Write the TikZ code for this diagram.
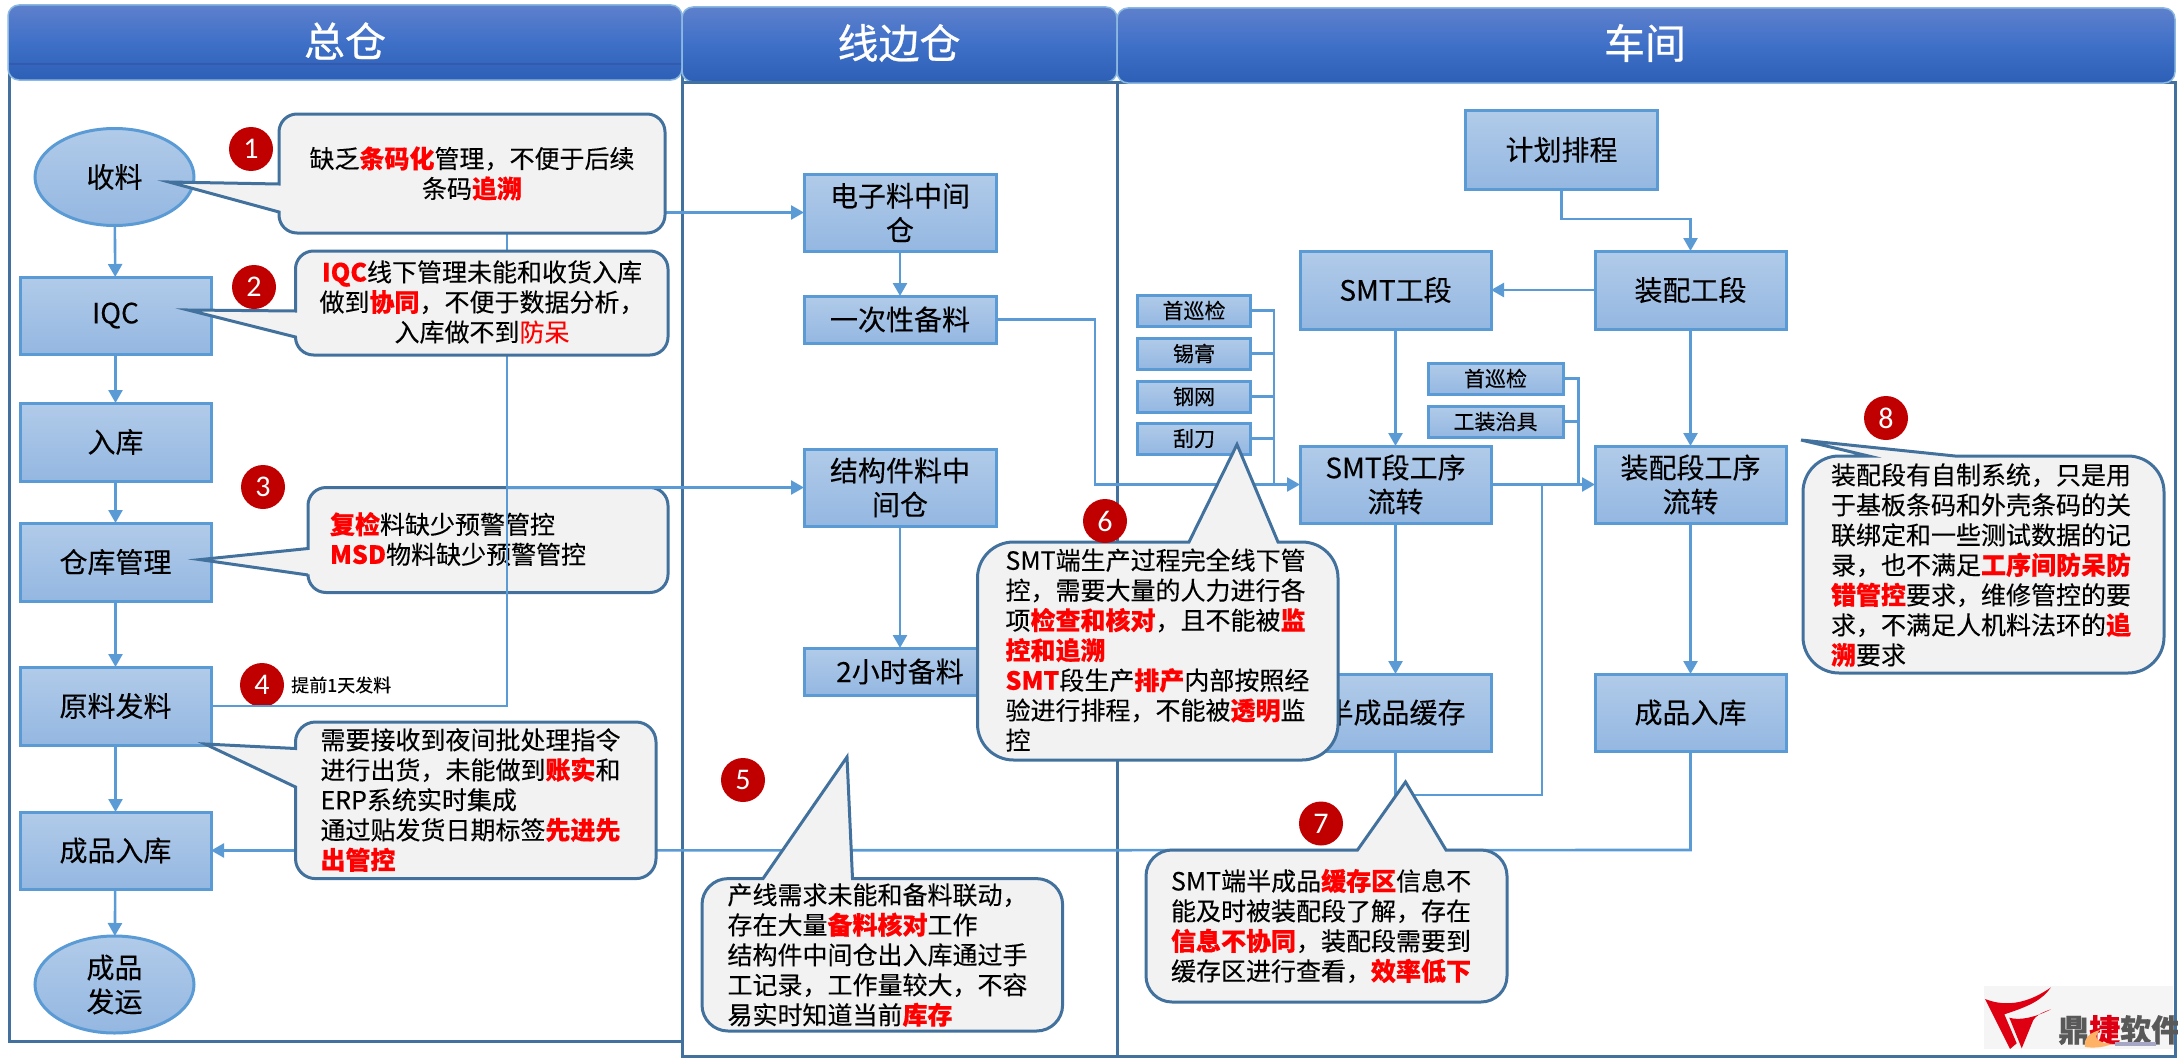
\documentclass[tikz,border=0pt]{standalone}
\usepackage{fontspec}
\setmainfont[FakeBold=0.2,BoldFeatures={FakeBold=0.4}]{Noto Sans CJK SC}
\newfontfamily\digitfont{Carlito}
\newfontfamily\headfont[FakeBold=0.6]{Noto Sans CJK SC}
\usetikzlibrary{arrows.meta,shapes.geometric,calc}
\definecolor{nodeline}{HTML}{5B9BD5}
\definecolor{nodetop}{HTML}{B1CBE9}
\definecolor{nodebot}{HTML}{94B7E1}
\definecolor{frameblue}{HTML}{41719C}
\definecolor{calloutfill}{HTML}{F2F2F2}
\definecolor{badgered}{HTML}{C00000}
\definecolor{headtop}{HTML}{5E80CC}
\definecolor{headmid}{HTML}{3F70C8}
\definecolor{headbot}{HTML}{2E5FB6}
\definecolor{logored}{HTML}{DE0012}
\newcommand{\hl}[1]{{\bfseries\color{red}#1}}
\newcommand{\hn}[1]{{\color{red}#1}}
\newcommand{\fs}[2]{\fontsize{#1}{#2}\selectfont}
\tikzset{
  procbox/.style={draw=nodeline,line width=3pt,top color=nodetop,bottom color=nodebot,
    shape=rectangle,inner sep=0pt,outer sep=0pt,align=center,text=black,font=\fs{28}{34}},
  smallbox/.style={procbox,font=\fs{21}{25}},
  oval/.style={procbox,shape=ellipse,minimum width=159pt,minimum height=97pt},
  flow/.style={draw=nodeline,line width=2.6pt},
  arrowflow/.style={flow,-{Triangle[length=13pt,width=14pt,fill=nodeline]}},
  lane/.style={draw=frameblue,line width=3pt},
  header/.style={draw=nodeline!70!white,line width=1.5pt,rounded corners=11pt,top color=headtop,bottom color=headbot,middle color=headmid},
  headtext/.style={text=white,font=\headfont\fs{41}{44},inner sep=0pt},
  callout/.style={draw=frameblue,line width=3pt,fill=calloutfill,line join=miter},
  badge/.style={shape=circle,fill=badgered,minimum size=44pt,inner sep=0pt,text=white,font=\digitfont\fs{30}{30}},
  ctext/.style={inner sep=0pt,outer sep=0pt,text=black,font=\fs{25}{30}},
}
\begin{document}
\begin{tikzpicture}[x=1pt,y=-1pt]
\useasboundingbox (0,0) rectangle (2178,1057);
% lanes and headers
\draw[lane] (9,64) rectangle (682,1041);
\draw[lane] (1117,82) rectangle (2175,1056);
\path[header] (8,5) rectangle (682,80);
\draw[draw=frameblue!80!blue,line width=1.5pt] (9,64) -- (681,64);
\path[header] (682,7) rectangle (1117,82);
\path[header] (1117,8) rectangle (2175,83);
\draw[lane] (682,82) rectangle (1117,1056);
\node[headtext] (h1) at (345,41) {总仓};
\node[headtext] (h2) at (899,43) {线边仓};
\node[headtext] (h3) at (1645,43) {车间};
% process nodes: warehouse
\node[oval] (recv) at (114.5,177) {收料};
\node[procbox,minimum width=191pt,minimum height=77pt] (iqc) at (115.5,315.5) {IQC};
\node[procbox,minimum width=191pt,minimum height=78pt] (stock) at (115.5,442) {入库};
\node[procbox,minimum width=191pt,minimum height=78pt] (mgmt) at (115.5,562) {仓库管理};
\node[procbox,minimum width=191pt,minimum height=78pt] (issue) at (115.5,706) {原料发料};
\node[procbox,minimum width=191pt,minimum height=77pt] (fgin) at (115.5,850.5) {成品入库};
\node[oval] (ship) at (114.5,984.5) {成品\\发运};
% line side
\node[procbox,minimum width=192pt,minimum height=77pt] (elec) at (900,212.5) {电子料中间\\仓};
\node[procbox,minimum width=192pt,minimum height=47pt] (once) at (900,319.5) {一次性备料};
\node[procbox,minimum width=192pt,minimum height=77pt] (struct) at (900,487.5) {结构件料中\\间仓};
\node[procbox,minimum width=192pt,minimum height=47pt] (twoh) at (900,671.5) {2小时备料};
% workshop
\node[procbox,minimum width=191.5pt,minimum height=78.5pt] (plan) at (1561.5,149.75) {计划排程};
\node[procbox,minimum width=191pt,minimum height=78pt] (asm) at (1690.5,290) {装配工段};
\node[procbox,minimum width=191pt,minimum height=78pt] (smt) at (1395.5,290) {SMT工段};
\node[procbox,minimum width=191pt,minimum height=77pt] (smtflow) at (1395.5,484.5) {SMT段工序\\流转};
\node[procbox,minimum width=191pt,minimum height=77pt] (asmflow) at (1690.5,484.5) {装配段工序\\流转};
\node[procbox,minimum width=191pt,minimum height=77pt] (semi) at (1395.5,712.5) {半成品缓存};
\node[procbox,minimum width=191pt,minimum height=77pt] (fgout) at (1690.5,712.5) {成品入库};
\node[smallbox,minimum width=113pt,minimum height=31pt] (s1) at (1194,310.5) {首巡检};
\node[smallbox,minimum width=113pt,minimum height=31pt] (s2) at (1194,353.5) {锡膏};
\node[smallbox,minimum width=113pt,minimum height=31pt] (s3) at (1194,396.5) {钢网};
\node[smallbox,minimum width=113pt,minimum height=31pt] (s4) at (1194,438.5) {刮刀};
\node[smallbox,minimum width=135pt,minimum height=31pt] (t1) at (1495.5,378.5) {首巡检};
\node[smallbox,minimum width=135pt,minimum height=31pt] (t2) at (1495.5,421.5) {工装治具};
% flows inside lanes
\draw[arrowflow] (recv) -- (iqc);
\draw[arrowflow] (iqc) -- (stock);
\draw[arrowflow] (stock) -- (mgmt);
\draw[arrowflow] (mgmt) -- (issue);
\draw[arrowflow] (issue) -- (fgin);
\draw[arrowflow] (fgin) -- (ship);
\draw[arrowflow] (elec) -- (once);
\draw[arrowflow] (struct) -- (twoh);
\draw[arrowflow] (smt) -- (smtflow);
\draw[arrowflow] (smtflow) -- (semi);
\draw[arrowflow] (asm) -- (asmflow);
\draw[arrowflow] (asmflow) -- (fgout);
\draw[arrowflow] (asm) -- (smt);
\draw[arrowflow] (smtflow.east) -- (asmflow.west);
\coordinate (planbend) at (1561.5,219);
\draw[arrowflow] (plan.south) -- (planbend) -| (asm.north);
\coordinate (oncex) at (1095,319.5);
\draw[arrowflow] (once.east) -- (oncex) |- (smtflow.west);
\coordinate (busa) at (1274,484.5);
\draw[flow] (s1.east) -| (busa);
\draw[flow] (s2.east) -- (s2.east -| busa);
\draw[flow] (s3.east) -- (s3.east -| busa);
\draw[flow] (s4.east) -- (s4.east -| busa);
\coordinate (busb) at (1578.5,484.5);
\draw[flow] (t1.east) -| (busb);
\draw[flow] (t2.east) -- (t2.east -| busb);
\coordinate (crossa) at (1542,484.5);
\coordinate (crossb) at (1542,795);
\coordinate (crossc) at (1395.5,795);
\draw[flow] (crossa) -- (crossb) -- (crossc);
\coordinate (botline) at (1395.5,850);
\draw[flow] (semi.south) -- (botline);
\coordinate (botr) at (1690.5,850);
\draw[arrowflow] (fgout.south) -- (botr) -- (fgin.east);
% callout 3 lies under the feed line
\draw[callout] (200,559.6) -- (308,548.5) [rounded corners=18pt] -- (308,487.5) -- (668,487.5) -- (668,592.5) -- (308,592.5) [sharp corners] -- (308,575) -- cycle;
\node[ctext,anchor=west,align=left] (c3t) at (330,539) {\hl{复检}料缺少预警管控\\\hl{MSD}物料缺少预警管控};
\node[badge] (b4) at (262,685) {4};
\node[inner sep=0pt,font=\fs{18}{20},anchor=west] (b4t) at (291,685) {提前1天发料};
% feed line
\coordinate (feedtop) at (507,212.5);
\coordinate (feedmid) at (507,487.5);
\draw[arrowflow] (issue.east) -| (feedtop) -- (elec.west);
\draw[arrowflow] (feedmid) -- (struct.west);
% callouts
\draw[callout] (169,182) -- (279,184) [rounded corners=18pt] -- (279,114) -- (665,114) -- (665,233) -- (279,233) [sharp corners] -- (279,212) -- cycle;
\node[ctext,align=center] (c1t) at (472,173.5) {缺乏\hl{条码化}管理，不便于后续\\条码\hl{追溯}};
\draw[callout] (188,310) -- (295.5,311) [rounded corners=18pt] -- (295.5,251) -- (668,251) -- (668,355) -- (295.5,355) [sharp corners] -- (295.5,337) -- cycle;
\node[ctext,align=center] (c2t) at (482,302) {\hl{IQC}线下管理未能和收货入库\\做到\hl{协同}，不便于数据分析，\\入库做不到\hn{防呆}};
\draw[callout] (205,744) -- (295.5,748.5) [rounded corners=20pt] -- (295.5,722) -- (656,722) -- (656,878.6) -- (295.5,878.6) [sharp corners] -- (295.5,787) -- cycle;
\node[ctext,anchor=west,align=left] (c4t) at (320.5,800) {需要接收到夜间批处理指令\\进行出货，未能做到\hl{账实}和\\ERP系统实时集成\\通过贴发货日期标签\hl{先进先}\\\hl{出管控}};
\draw[callout] (847,757) -- (852.5,878.6) [rounded corners=26pt] -- (1062.6,878.6) -- (1062.6,1031) -- (702,1031) -- (702,878.6) [sharp corners] -- (763,878.6) -- cycle;
\node[ctext,anchor=west,align=left] (c5t) at (727.5,955) {产线需求未能和备料联动，\\存在大量\hl{备料核对}工作\\结构件中间仓出入库通过手\\工记录，工作量较大，不容\\易实时知道当前\hl{库存}};
\draw[callout] (1237,444.5) -- (1278,542) [rounded corners=36pt] -- (1338,542) -- (1338,760) -- (977.5,760) -- (977.5,542) [sharp corners] -- (1189,542) -- cycle;
\node[ctext,anchor=west,align=left] (c6t) at (1005.5,650) {SMT端生产过程完全线下管\\控，需要大量的人力进行各\\项\hl{检查和核对}，且不能被\hl{监}\\\hl{控和追溯}\\\hl{SMT}段生产\hl{排产}内部按照经\\验进行排程，不能被\hl{透明}监\\控};
\draw[callout] (1405.5,782) -- (1446,850) [rounded corners=26pt] -- (1507,850) -- (1507,1002) -- (1146,1002) -- (1146,850) [sharp corners] -- (1357.5,850) -- cycle;
\node[ctext,anchor=west,align=left] (c7t) at (1171,926) {SMT端半成品\hl{缓存区}信息不\\能及时被装配段了解，存在\\\hl{信息不协同}，装配段需要到\\缓存区进行查看，\hl{效率低下}};
\draw[callout] (1801,440) -- (1955,456) [rounded corners=36pt] -- (2164,456) -- (2164,673) -- (1803,673) -- (1803,456) [sharp corners] -- (1868.5,456) -- cycle;
\node[ctext,anchor=west,align=left] (c8t) at (1831,565) {装配段有自制系统，只是用\\于基板条码和外壳条码的关\\联绑定和一些测试数据的记\\录，也不满足\hl{工序间防呆防}\\\hl{错管控}要求，维修管控的要\\求，不满足人机料法环的\hl{追}\\\hl{溯}要求};
% badges
\node[badge] (b1) at (251,149) {1};
\node[badge] (b2) at (254,287) {2};
\node[badge] (b3) at (263,487) {3};
\node[badge] (b5) at (743,780) {5};
\node[badge] (b6) at (1105,521) {6};
\node[badge] (b7) at (1321,823.5) {7};
\node[badge] (b8) at (1886,418) {8};
% logo
\fill[black!4] (1984,986) rectangle (2173,1049);
\fill[logored] (1985,999) .. controls (2008,1008) and (2030,1002) .. (2051,987.3) .. controls (2042,1000) and (2030,1006) .. (2004.3,1014.3) -- (2016.7,1043.3) -- (2010,1049) -- cycle;
\fill[logored] (2051,1009.3) .. controls (2040,1013) and (2036,1016) .. (2033.3,1020) -- (2021.7,1048.3) -- (2009.3,1017.7) .. controls (2020,1021) and (2036,1017) .. cycle;
\node[inner sep=0pt,anchor=west,text=black!65,font=\bfseries\fs{31}{31}] (logot) at (2058,1030) {鼎\textcolor{logored}{捷}软件};
\fill[orange!60] (2085,1047) .. controls (2083,1037) and (2092,1032) .. (2100,1030) .. controls (2095,1035) and (2092,1042) .. (2112,1044) .. controls (2102,1048) and (2092,1048) .. cycle;
\fill[blue!35!black!35] (2115,1042) rectangle (2156,1046);
\end{tikzpicture}
\end{document}
